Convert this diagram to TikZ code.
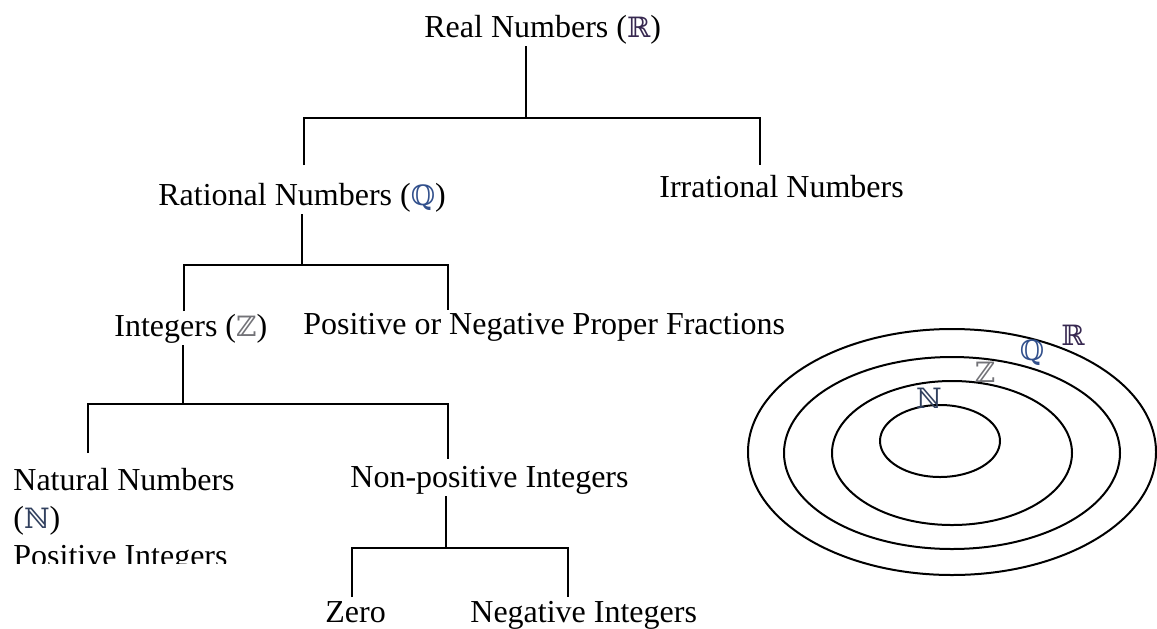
\documentclass[tikz,border=0pt]{standalone}
\usepackage{fontspec}
\setmainfont{Liberation Serif}
\newfontfamily\bbfont{DejaVu Serif}
\usepackage{xcolor}
\usetikzlibrary{positioning}
\definecolor{bbR}{RGB}{55,40,80}
\definecolor{bbQ}{RGB}{50,80,140}
\definecolor{bbZ}{RGB}{115,115,120}
\definecolor{bbN}{RGB}{50,65,95}
\newcommand{\bbR}{{\bbfont\fontsize{14}{16}\selectfont\textcolor{bbR}{ℝ}}}
\newcommand{\bbQ}{{\bbfont\fontsize{14}{16}\selectfont\textcolor{bbQ}{ℚ}}}
\newcommand{\bbZ}{{\bbfont\fontsize{14}{16}\selectfont\textcolor{bbZ}{ℤ}}}
\newcommand{\bbN}{{\bbfont\fontsize{14}{16}\selectfont\textcolor{bbN}{ℕ}}}

\begin{document}
\begin{tikzpicture}[x=0.5pt,y=-0.5pt,
  font=\fontsize{16}{19}\selectfont,
  lbl/.style={inner sep=1pt,anchor=base west},
  link/.style={line width=1pt},
  ring/.style={line width=1pt},
  setname/.style={inner sep=0pt}]
\useasboundingbox (0,0) rectangle (1157,628);
\node[lbl] (real) at (422,37) {Real Numbers (\bbR)};
\node[lbl] (rat) at (156,205) {Rational Numbers (\bbQ)};
\node[lbl] (irr) at (657,197) {Irrational Numbers};
\node[lbl] (int) at (112,336) {Integers (\bbZ)};
\node[lbl] (frac) at (301,334) {Positive or Negative Proper Fractions};
\begin{scope}
\clip (0,440) rectangle (300,563);
\node[inner sep=1pt,anchor=north west,align=left] (nat) at (11,466) {Natural Numbers\\(\bbN)\\Positive Integers};
\end{scope}
\node[lbl] (npos) at (348,487) {Non-positive Integers};
\node[lbl] (zero) at (323,622) {Zero};
\node[lbl] (neg) at (468,622) {Negative Integers};
\coordinate (jR) at (526,118); \coordinate (dR1) at (304,165); \coordinate (dR2) at (760,165);
\coordinate (jQ) at (302,265); \coordinate (dQ1) at (184,311); \coordinate (dQ2) at (448,310);
\coordinate (jZ) at (183,404); \coordinate (dZ1) at (88,453); \coordinate (dZ2) at (448,459);
\coordinate (jP) at (446,548); \coordinate (dP1) at (352,597); \coordinate (dP2) at (568,597);
\draw[link] (real.south -| jR) -- (jR); \draw[link] (dR1) -- (dR1 |- jR) -- (dR2 |- jR) -- (dR2);
\draw[link] (rat.south -| jQ) -- (jQ); \draw[link] (dQ1) -- (dQ1 |- jQ) -- (dQ2 |- jQ) -- (dQ2);
\draw[link] (int.south -| jZ) -- (jZ); \draw[link] (dZ1) -- (dZ1 |- jZ) -- (dZ2 |- jZ) -- (dZ2);
\draw[link] (npos.south -| jP) -- (jP); \draw[link] (dP1) -- (dP1 |- jP) -- (dP2 |- jP) -- (dP2);
\draw[ring] (952,452) ellipse [x radius=204,y radius=123];
\draw[ring] (952,453) ellipse [x radius=168,y radius=96];
\draw[ring] (952,453) ellipse [x radius=120,y radius=72];
\draw[ring] (940,441) ellipse [x radius=60,y radius=36];
\node[setname] (sR) at (1073,335) {\bbR};
\node[setname] (sQ) at (1032,353) {\bbQ};
\node[setname] (sZ) at (985,372) {\bbZ};
\node[setname] (sN) at (929,398) {\bbN};
\end{tikzpicture}
\end{document}
